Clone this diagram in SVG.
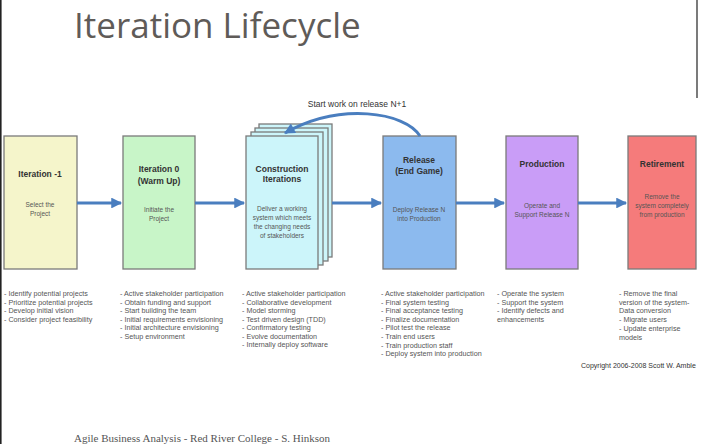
<svg xmlns="http://www.w3.org/2000/svg" width="701" height="446" viewBox="0 0 701 446">
  <style>
    .box { stroke: #7a7a7a; stroke-width: 1.3; }
    .ttl { font-family: "Liberation Sans", Arial, sans-serif; font-size: 8.5px; font-weight: bold; fill: #333; text-anchor: middle; }
    .dsc { font-family: "Liberation Sans", Arial, sans-serif; font-size: 6.5px; fill: #555; text-anchor: middle; }
    .lst { font-family: "Liberation Sans", Arial, sans-serif; font-size: 7.2px; fill: #555; }
    .flow { stroke: #4a7ebf; stroke-width: 3; fill: none; }
  </style>
  <defs>
    <marker id="head" viewBox="0 0 10 10" refX="9" refY="5" markerWidth="4" markerHeight="3.6" orient="auto" markerUnits="strokeWidth">
      <path d="M0,0 L10,5 L0,10 z" fill="#4a7ebf"/>
    </marker>
  </defs>

  <rect width="701" height="446" fill="#ffffff"/>
  <!-- page frame edges -->
  <line x1="0.8" y1="0" x2="0.8" y2="444" stroke="#222" stroke-width="1.6"/>
  <line x1="697" y1="0" x2="697" y2="98" stroke="#222" stroke-width="1.2"/>

  <text x="74" y="38" font-family="'Open Sans', 'Noto Sans', sans-serif" font-size="35" fill="#5f5b58">Iteration Lifecycle</text>

  <g id="iteration-minus-1">
    <rect class="box" x="4" y="136" width="73" height="133" fill="#f5f5cb"/>
    <text class="ttl" x="40" y="177">Iteration -1</text>
    <text class="dsc" x="40" y="207">Select the</text>
    <text class="dsc" x="40" y="216">Project</text>
  </g>

  <g id="iteration-0">
    <rect class="box" x="123" y="136" width="72" height="133" fill="#c8f5c8"/>
    <text class="ttl" x="159" y="172">Iteration 0</text>
    <text class="ttl" x="159" y="184">(Warm Up)</text>
    <text class="dsc" x="159" y="212">Initiate the</text>
    <text class="dsc" x="159" y="221">Project</text>
  </g>

  <g id="construction">
    <rect class="box" x="259" y="124" width="73" height="133" fill="#ccf5fa"/>
    <rect class="box" x="255" y="128" width="73" height="133" fill="#ccf5fa"/>
    <rect class="box" x="251" y="132" width="72" height="133" fill="#ccf5fa"/>
    <rect class="box" x="246" y="136" width="72" height="133" fill="#ccf5fa"/>
    <text class="ttl" x="282" y="172">Construction</text>
    <text class="ttl" x="282" y="182">Iterations</text>
    <text class="dsc" x="282" y="211">Deliver a working</text>
    <text class="dsc" x="282" y="220">system which meets</text>
    <text class="dsc" x="282" y="229">the changing needs</text>
    <text class="dsc" x="282" y="238">of stakeholders</text>
  </g>

  <g id="release">
    <rect class="box" x="383" y="136" width="73" height="133" fill="#8cbaee"/>
    <text class="ttl" x="419" y="163">Release</text>
    <text class="ttl" x="419" y="174">(End Game)</text>
    <text class="dsc" x="419" y="212">Deploy Release N</text>
    <text class="dsc" x="419" y="221">into Production</text>
  </g>

  <g id="production">
    <rect class="box" x="506" y="136" width="72" height="133" fill="#c99df7"/>
    <text class="ttl" x="542" y="167">Production</text>
    <text class="dsc" x="542" y="208">Operate and</text>
    <text class="dsc" x="542" y="217">Support Release N</text>
  </g>

  <g id="retirement">
    <rect class="box" x="628" y="136" width="68" height="133" fill="#f57b7b"/>
    <text class="ttl" x="662" y="167">Retirement</text>
    <text class="dsc" x="662" y="199">Remove the</text>
    <text class="dsc" x="662" y="208">system completely</text>
    <text class="dsc" x="662" y="217">from production</text>
  </g>

  <!-- connectors, drawn over the phases so the loop-back head sits on the sheets -->
  <g id="connectors">
    <line class="flow" x1="77" y1="203" x2="121" y2="203" marker-end="url(#head)"/>
    <line class="flow" x1="195" y1="203" x2="244" y2="203" marker-end="url(#head)"/>
    <line class="flow" x1="332" y1="203" x2="381" y2="203" marker-end="url(#head)"/>
    <line class="flow" x1="456" y1="203" x2="504" y2="203" marker-end="url(#head)"/>
    <line class="flow" x1="578" y1="203" x2="626" y2="203" marker-end="url(#head)"/>
    <path class="flow" d="M420,136 C405,112 340,102 285,133" marker-end="url(#head)"/>
    <text x="357" y="107" font-family="'Liberation Sans', Arial, sans-serif" font-size="8.5" fill="#333" text-anchor="middle">Start work on release N+1</text>
  </g>

  <!-- activity lists under each phase -->
  <g id="lists">
    <text class="lst" x="4" y="296">
      <tspan x="4" dy="0">- Identify potential projects</tspan>
      <tspan x="4" dy="8.5">- Prioritize potential projects</tspan>
      <tspan x="4" dy="8.5">- Develop initial vision</tspan>
      <tspan x="4" dy="8.5">- Consider project feasibility</tspan>
    </text>
    <text class="lst" x="120" y="296">
      <tspan x="120" dy="0">- Active stakeholder participation</tspan>
      <tspan x="120" dy="8.6">- Obtain funding and support</tspan>
      <tspan x="120" dy="8.6">- Start building the team</tspan>
      <tspan x="120" dy="8.6">- Initial requirements envisioning</tspan>
      <tspan x="120" dy="8.6">- Initial architecture envisioning</tspan>
      <tspan x="120" dy="8.6">- Setup environment</tspan>
    </text>
    <text class="lst" x="242" y="296">
      <tspan x="242" dy="0">- Active stakeholder participation</tspan>
      <tspan x="242" dy="8.5">- Collaborative development</tspan>
      <tspan x="242" dy="8.5">- Model storming</tspan>
      <tspan x="242" dy="8.5">- Test driven design (TDD)</tspan>
      <tspan x="242" dy="8.5">- Confirmatory testing</tspan>
      <tspan x="242" dy="8.5">- Evolve documentation</tspan>
      <tspan x="242" dy="8.5">- Internally deploy software</tspan>
    </text>
    <text class="lst" x="381" y="296">
      <tspan x="381" dy="0">- Active stakeholder participation</tspan>
      <tspan x="381" dy="8.6">- Final system testing</tspan>
      <tspan x="381" dy="8.6">- Final acceptance testing</tspan>
      <tspan x="381" dy="8.6">- Finalize documentation</tspan>
      <tspan x="381" dy="8.6">- Pilot test the release</tspan>
      <tspan x="381" dy="8.6">- Train end users</tspan>
      <tspan x="381" dy="8.6">- Train production staff</tspan>
      <tspan x="381" dy="8.6">- Deploy system into production</tspan>
    </text>
    <text class="lst" x="497" y="296">
      <tspan x="497" dy="0">- Operate the system</tspan>
      <tspan x="497" dy="8.5">- Support the system</tspan>
      <tspan x="497" dy="8.5">- Identify defects and</tspan>
      <tspan x="497" dy="8.5">enhancements</tspan>
    </text>
    <text class="lst" x="619" y="296">
      <tspan x="619" dy="0">- Remove the final</tspan>
      <tspan x="619" dy="8.7">version of the system-</tspan>
      <tspan x="619" dy="8.7">Data conversion</tspan>
      <tspan x="619" dy="8.7">- Migrate users</tspan>
      <tspan x="619" dy="8.7">- Update enterprise</tspan>
      <tspan x="619" dy="8.7">models</tspan>
    </text>
  </g>

  <text x="581" y="368" font-family="'Liberation Sans', Arial, sans-serif" font-size="7" fill="#333">Copyright 2006-2008 Scott W. Amble</text>

  <text x="74" y="442" font-family="'Liberation Serif', 'Times New Roman', serif" font-size="11" fill="#555">Agile Business Analysis - Red River College - S. Hinkson</text>
</svg>
